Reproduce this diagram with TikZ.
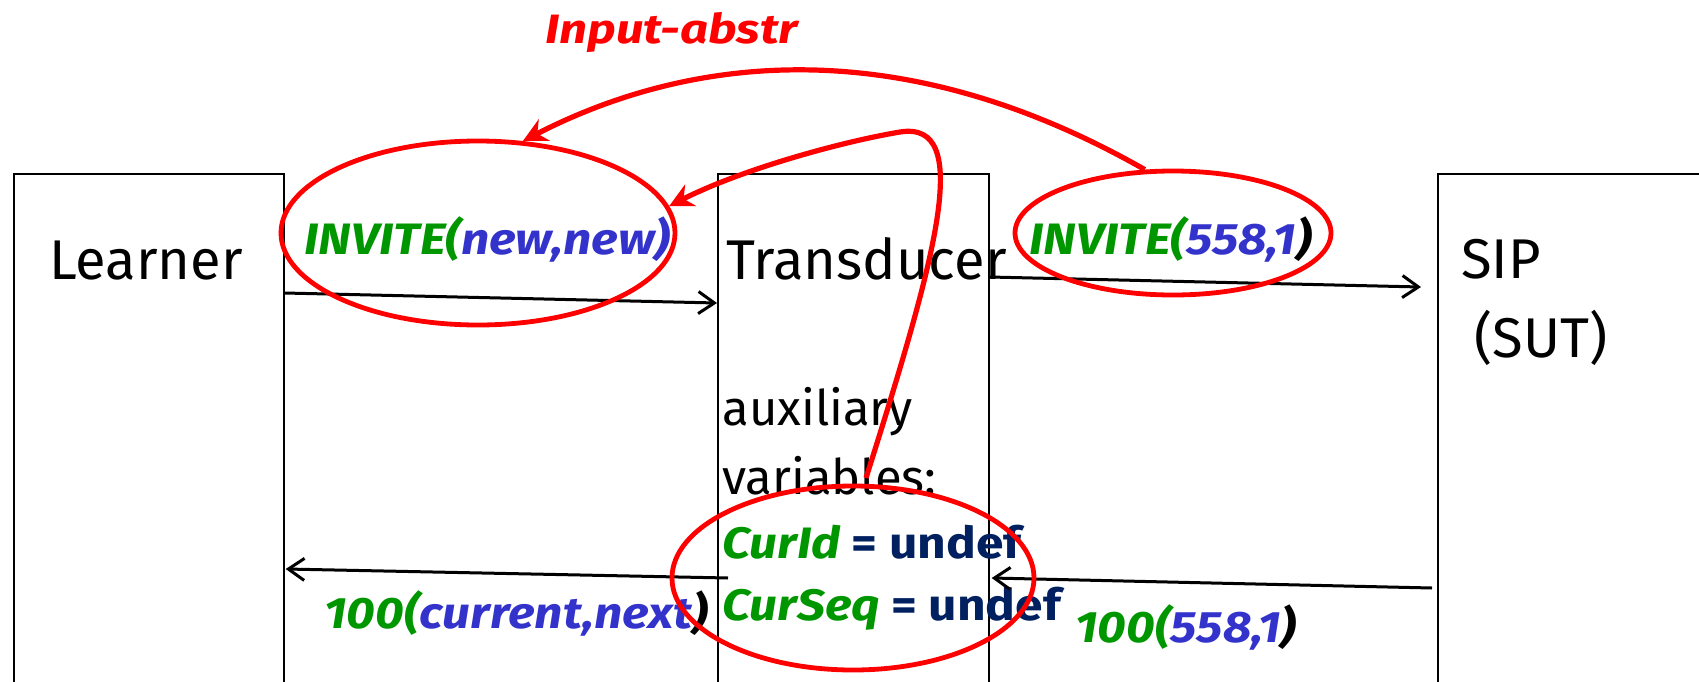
\documentclass[tikz,border=0pt]{standalone}
\usepackage{fontspec}
\setmainfont{Fira Sans}
\newfontfamily\msgfont{Fira Sans}[FakeStretch=1.13]
\newfontfamily\notefont{Fira Sans}[FakeStretch=1.2]
\usetikzlibrary{arrows.meta,calc,shapes.geometric}
\definecolor{lblgreen}{RGB}{0,150,0}
\definecolor{lblblue}{RGB}{51,51,204}
\definecolor{varnavy}{RGB}{0,32,96}
\definecolor{markred}{RGB}{255,0,0}
\begin{document}
\begin{tikzpicture}[x=0.5pt,y=-0.5pt,
  party/.style={draw,line width=0.85pt,anchor=north west,inner sep=0pt,minimum height=280pt},
  boxtext/.style={anchor=base west,inner sep=0pt,font=\fontsize{28}{33}\selectfont},
  auxtext/.style={anchor=base west,inner sep=0pt,font=\fontsize{24.5}{29}\selectfont},
  msg/.style={anchor=base west,inner sep=0pt,font=\msgfont\fontsize{22}{26}\selectfont\bfseries\itshape},
  msgarrow/.style={line width=1.5pt,-{Straight Barb[length=8pt,width=11pt,line width=1.5pt]}},
  ringmark/.style={draw=markred,line width=2.4pt,ellipse,inner sep=0pt},
  markarrow/.style={draw=markred,line width=2.6pt,-{Stealth[length=12pt,width=12pt]}}]
\useasboundingbox (0,0) rectangle (1699,681);

% the three parties
\node[party,minimum width=135pt] (learner) at (13,173) {};
\node[party,minimum width=135.5pt] (transducer) at (717,173) {};
\node[party,minimum width=141.5pt] (sip) at (1437,173) {};

\node[boxtext] (learnerlbl) at (49,279) {Learner};
\node[boxtext] (translbl) at (726,279) {Transducer};
\node[boxtext] (siplbl) at (1461,278) {SIP};
\node[boxtext] (sutlbl) at (1474,357) {(SUT)};

% auxiliary variables of the transducer
\node[auxtext] (aux1) at (722,425) {auxiliary};
\node[auxtext] (aux2) at (722,494) {variables:};
\node[msg] (curid) at (722,558) {\textcolor{lblgreen}{CurId} \textcolor{varnavy}{\upshape = undef}};
\node[msg] (curseq) at (722,620) {\textcolor{lblgreen}{CurSeq} \textcolor{varnavy}{\upshape = undef}};

% message arrows
\coordinate (a1s) at ($(learner.north east)+(0,120)$);
\coordinate (a1e) at ($(transducer.north west)+(0,130)$);
\coordinate (a2s) at ($(transducer.north east)+(0,104)$);
\coordinate (a2e) at ($(sip.north west)+(-16,114)$);
\coordinate (a3s) at ($(sip.north west)+(-5,415)$);
\coordinate (a3e) at ($(transducer.north east)+(2,405)$);
\coordinate (a4s) at ($(transducer.north west)+(11,405)$);
\coordinate (a4e) at ($(learner.north east)+(1,396)$);
\draw[msgarrow] (a1s) -- (a1e);
\draw[msgarrow] (a2s) -- (a2e);
\draw[msgarrow] (a3s) -- (a3e);
\draw[msgarrow] (a4s) -- (a4e);

% message labels
\node[msg] (m1) at (304,254) {\textcolor{lblgreen}{INVITE(}\textcolor{lblblue}{new,new)}};
\node[msg] (m2) at (1029,254) {\textcolor{lblgreen}{INVITE(}\textcolor{lblblue}{558,1})};
\node[msg] (m3) at (324,628) {\textcolor{lblgreen}{100(}\textcolor{lblblue}{current,next})};
\node[msg] (m4) at (1075,642) {\textcolor{lblgreen}{100(}\textcolor{lblblue}{558,1})};

% abstraction annotations
\node[ringmark,minimum width=197pt,minimum height=92pt] (e1) at (478,233) {};
\node[ringmark,minimum width=158pt,minimum height=62pt] (e2) at (1173,233) {};
\node[ringmark,minimum width=181pt,minimum height=92pt] (e3) at (853,578) {};

\node[anchor=base west,inner sep=0pt,text=markred,font=\notefont\fontsize{20.5}{24}\selectfont\bfseries\itshape] (abstr) at (545,43) {Input-abstr};

\coordinate (vstart) at (866,478);
\draw[markarrow] (e2.114) .. controls (900,30) and (690,55) .. (e1.64);
\draw[markarrow] (vstart) .. controls (935,260) and (975,120) .. (900,132)
  .. controls (840,142) and (740,170) .. (e1.8);
\end{tikzpicture}
\end{document}
